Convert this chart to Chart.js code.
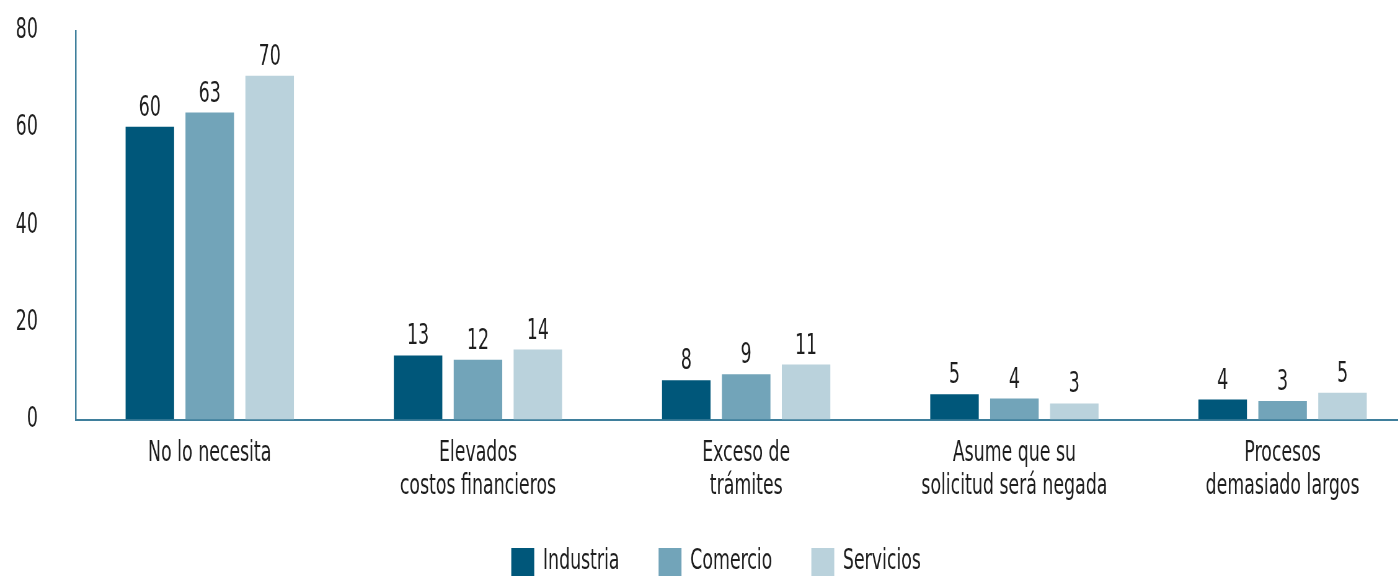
<!DOCTYPE html>
<html>
<head>
<meta charset="utf-8">
<script src="https://cdn.jsdelivr.net/npm/chart.js@4"></script>
<style>
  html, body { margin: 0; padding: 0; background: #fff; overflow: hidden; }
  #wrap { width: 1398px; height: 576px; overflow: hidden; position: relative; }
  #chart { position: absolute; left: 0; top: 0; transform: scaleX(0.62); transform-origin: 0 0; }
</style>
</head>
<body>
<div id="wrap"><canvas id="chart" width="2290" height="590"></canvas></div>
<script>
const categories = [
  'No lo necesita',
  ['Elevados', 'costos financieros'],
  ['Exceso de', 'trámites'],
  ['Asume que su', 'solicitud será negada'],
  ['Procesos', 'demasiado largos']
]
const seriesNames = ['Industria', 'Comercio', 'Servicios']
const industria = [60.3, 13.2, 8.1, 5.2, 4.1]
const comercio = [63.2, 12.3, 9.3, 4.3, 3.8]
const servicios = [70.8, 14.4, 11.3, 3.3, 5.5]
const industriaLabels = [60, 13, 8, 5, 4]
const comercioLabels = [63, 12, 9, 4, 3]
const serviciosLabels = [70, 14, 11, 3, 5]
const yTicks = [0, 20, 40, 60, 80]

const colors = ['#00577a', '#72a4b9', '#bad2dc']
const FONT = "'DejaVu Sans', Verdana, sans-serif"
const textColor = '#1e1e1e'
const axisColor = '#3f7f9c'

// numbers above the bars
const valueLabels = {
  id: 'valueLabels',
  afterDatasetsDraw(chart) {
    const ctx = chart.ctx
    const sets = [industriaLabels, comercioLabels, serviciosLabels]
    ctx.save()
    ctx.font = '28px ' + FONT
    ctx.fillStyle = textColor
    ctx.textAlign = 'center'
    ctx.textBaseline = 'alphabetic'
    chart.data.datasets.forEach((ds, i) => {
      chart.getDatasetMeta(i).data.forEach((el, j) => {
        ctx.fillText(String(sets[i][j]), el.x, el.y - 11)
      })
    })
    ctx.restore()
  }
}

// legend sits lower than its box so it gets cut by the page edge like the original
const legendPlace = {
  id: 'legendPlace',
  beforeInit(chart) {
    const legend = chart.legend
    const fit = legend.fit
    const draw = legend.draw
    legend.fit = function () {
      fit.call(this)
      this.height = 84.5
    }
    legend.draw = function () {
      const t = this.top
      this.top = t - 20.5
      draw.call(this)
      this.top = t
    }
  }
}

new Chart(document.getElementById('chart'), {
  type: 'bar',
  data: {
    labels: categories,
    datasets: [
      { label: seriesNames[0], data: industria, backgroundColor: colors[0] },
      { label: seriesNames[1], data: comercio, backgroundColor: colors[1] },
      { label: seriesNames[2], data: servicios, backgroundColor: colors[2] }
    ]
  },
  options: {
    responsive: false,
    devicePixelRatio: 1,
    animation: false,
    categoryPercentage: 0.67,
    barPercentage: 0.81,
    layout: { padding: { top: 31, left: 25, right: 5, bottom: 0 } },
    plugins: {
      tooltip: { enabled: false },
      legend: {
        position: 'bottom',
        labels: {
          boxWidth: 37, boxHeight: 28, padding: 63,
          color: textColor,
          font: { family: FONT, size: 28 }
        }
      }
    },
    scales: {
      x: {
        grid: { display: false, drawTicks: false },
        border: { display: true, color: axisColor, width: 2 },
        ticks: {
          color: textColor, padding: 18, maxRotation: 0, autoSkip: false,
          font: { family: FONT, size: 28, lineHeight: 1.18 }
        },
        afterFit(scale) { scale.height = 86 }
      },
      y: {
        min: 0, max: 80,
        afterBuildTicks(scale) { scale.ticks = yTicks.map(v => ({ value: v })) },
        grid: { display: false, drawTicks: false },
        border: { display: true, color: axisColor, width: 2.5 },
        ticks: {
          color: textColor, padding: 61,
          font: { family: FONT, size: 28 }
        },
        afterFit(scale) {
          scale.width = 97
          scale.paddingTop = 17
          scale.paddingBottom = 17
        }
      }
    }
  },
  plugins: [valueLabels, legendPlace]
})
</script>
</body>
</html>
